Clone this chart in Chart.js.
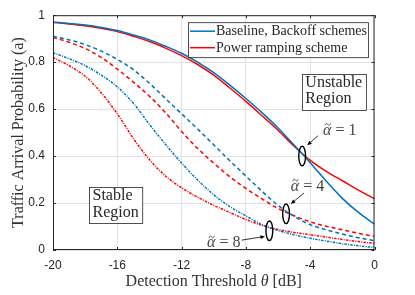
<!DOCTYPE html>
<html>
<head>
<meta charset="utf-8">
<script src="https://cdn.jsdelivr.net/npm/chart.js@4"></script>
<style>
  body { margin: 0; background: #fff; }
  canvas { display: block; }
</style>
</head>
<body>
<canvas id="arrivalChart" width="415" height="295"></canvas>
<script>
// detection threshold (dB) and traffic arrival probability
var thetaDb = [-20, -19, -18, -17, -16, -15, -14, -13, -12, -11, -10, -9, -8, -7, -6, -5, -4, -3, -2, -1, 0];
var baselineA1 = [0.970, 0.965, 0.958, 0.948, 0.935, 0.916, 0.895, 0.868, 0.838, 0.800, 0.755, 0.702, 0.645, 0.585, 0.520, 0.447, 0.372, 0.293, 0.220, 0.160, 0.110];
var rampingA1 = [0.970, 0.963, 0.955, 0.944, 0.930, 0.910, 0.888, 0.860, 0.828, 0.790, 0.745, 0.690, 0.633, 0.572, 0.510, 0.442, 0.382, 0.335, 0.295, 0.255, 0.218];
var baselineA4 = [0.910, 0.895, 0.875, 0.847, 0.812, 0.768, 0.710, 0.645, 0.580, 0.515, 0.448, 0.380, 0.315, 0.250, 0.190, 0.143, 0.108, 0.086, 0.068, 0.052, 0.040];
var rampingA4 = [0.905, 0.885, 0.858, 0.820, 0.770, 0.715, 0.655, 0.585, 0.505, 0.432, 0.370, 0.312, 0.262, 0.218, 0.177, 0.146, 0.120, 0.101, 0.086, 0.071, 0.058];
var baselineA8 = [0.840, 0.815, 0.785, 0.745, 0.695, 0.625, 0.535, 0.450, 0.370, 0.298, 0.235, 0.185, 0.145, 0.108, 0.083, 0.065, 0.050, 0.038, 0.027, 0.018, 0.011];
var rampingA8 = [0.820, 0.785, 0.740, 0.670, 0.580, 0.475, 0.385, 0.315, 0.265, 0.225, 0.190, 0.160, 0.130, 0.105, 0.087, 0.075, 0.065, 0.055, 0.045, 0.036, 0.028];

var xTicks = [-20, -16, -12, -8, -4, 0];
var yTicks = [0, 0.2, 0.4, 0.6, 0.8, 1];
var legendLabels = ['Baseline, Backoff schemes', 'Power ramping scheme'];

var BLUE = '#0072BD';
var RED = '#FF0000';
var AXIS = '#262626';
var SERIF = '"Liberation Serif", "Times New Roman", serif';
var SANS = '"Liberation Sans", Arial, sans-serif';

function toPoints(values) {
    var points = [];
    for (var i = 0; i < thetaDb.length; i++) {
        points.push({ x: thetaDb[i], y: values[i] });
    }
    return points;
}

function makeDataset(values, color, dash) {
    return {
        data: toPoints(values),
        borderColor: color,
        borderWidth: 1.5,
        borderDash: dash,
        pointRadius: 0,
        fill: false,
        cubicInterpolationMode: 'monotone'
    };
}

function fixedTicks(list) {
    return function (scale) {
        scale.ticks = list.map(function (v) { return { value: v }; });
    };
}

function plainNumber(value) {
    return String(Math.round(value * 10) / 10);
}

// annotations in data coordinates
var alphaNotes = [
    { label: '1', ellipse: [-4.5, 0.40], arrowFrom: [-3.51, 0.487], arrowTo: [-4.19, 0.446], text: [-3.2, 0.49] },
    { label: '4', ellipse: [-5.5, 0.154], arrowFrom: [-4.38, 0.243], arrowTo: [-5.21, 0.196], text: [-5.21, 0.253] },
    { label: '8', ellipse: [-6.54, 0.082], arrowFrom: [-8.26, 0.042], arrowTo: [-6.81, 0.058], text: [-10.42, 0.011] }
];
var regionNotes = [
    { lines: ['Unstable', 'Region'], at: [-4.52, 0.75] },
    { lines: ['Stable', 'Region'], at: [-17.76, 0.268] }
];

function drawArrow(ctx, x0, y0, x1, y1) {
    var ang = Math.atan2(y1 - y0, x1 - x0);
    var head = 5;
    ctx.beginPath();
    ctx.moveTo(x0, y0);
    ctx.lineTo(x1 - Math.cos(ang) * head * 0.8, y1 - Math.sin(ang) * head * 0.8);
    ctx.stroke();
    ctx.beginPath();
    ctx.moveTo(x1, y1);
    ctx.lineTo(x1 - head * Math.cos(ang - 0.4), y1 - head * Math.sin(ang - 0.4));
    ctx.lineTo(x1 - head * Math.cos(ang + 0.4), y1 - head * Math.sin(ang + 0.4));
    ctx.closePath();
    ctx.fill();
}

function drawTilde(ctx, cx, cy, w) {
    ctx.beginPath();
    ctx.moveTo(cx - w / 2, cy + 1);
    ctx.bezierCurveTo(cx - w / 4, cy - 2, cx - w / 8, cy - 1, cx, cy);
    ctx.bezierCurveTo(cx + w / 8, cy + 1, cx + w / 4, cy + 2, cx + w / 2, cy - 1);
    ctx.stroke();
}

var decorations = {
    id: 'decorations',
    afterDraw: function (chart) {
        var ctx = chart.ctx;
        var area = chart.chartArea;
        var xs = chart.scales.x;
        var ys = chart.scales.y;
        var px = function (p) { return [xs.getPixelForValue(p[0]), ys.getPixelForValue(p[1])]; };

        ctx.save();

        // axes box with inward ticks
        ctx.strokeStyle = AXIS;
        ctx.lineWidth = 1;
        ctx.strokeRect(area.left + 0.5, area.top + 0.5, area.right - area.left - 1, area.bottom - area.top - 1);
        ctx.beginPath();
        for (var v of xTicks) {
            var tx = Math.round(xs.getPixelForValue(v)) + 0.5;
            ctx.moveTo(tx, area.bottom); ctx.lineTo(tx, area.bottom - 3);
            ctx.moveTo(tx, area.top); ctx.lineTo(tx, area.top + 3);
        }
        for (var w of yTicks) {
            var ty = Math.round(ys.getPixelForValue(w)) + 0.5;
            ctx.moveTo(area.left, ty); ctx.lineTo(area.left + 3, ty);
            ctx.moveTo(area.right, ty); ctx.lineTo(area.right - 3, ty);
        }
        ctx.stroke();

        // axis titles
        ctx.fillStyle = '#333';
        ctx.font = '16px ' + SERIF;
        ctx.textBaseline = 'alphabetic';
        var part1 = 'Detection Threshold ';
        var part2 = '\u03B8';
        var part3 = ' [dB]';
        var w1 = ctx.measureText(part1).width;
        var w3 = ctx.measureText(part3).width;
        ctx.font = 'italic 16px ' + SERIF;
        var w2 = ctx.measureText(part2).width;
        var startX = (area.left + area.right) / 2 - (w1 + w2 + w3) / 2;
        ctx.font = '16px ' + SERIF;
        ctx.textAlign = 'left';
        ctx.fillText(part1, startX, 286);
        ctx.font = 'italic 16px ' + SERIF;
        ctx.fillText(part2, startX + w1, 286);
        ctx.font = '16px ' + SERIF;
        ctx.fillText(part3, startX + w1 + w2, 286);

        ctx.save();
        ctx.translate(23, (area.top + area.bottom) / 2);
        ctx.rotate(-Math.PI / 2);
        ctx.textAlign = 'center';
        ctx.fillText('Traffic Arrival Probability (a)', 0, 0);
        ctx.restore();

        // legend
        ctx.font = '14px ' + SERIF;
        var legW = 180, legH = 35;
        var legX = area.right - 6.5 - legW, legY = area.top + 7;
        ctx.fillStyle = '#fff';
        ctx.fillRect(legX, legY, legW, legH);
        ctx.strokeStyle = AXIS;
        ctx.lineWidth = 0.8;
        ctx.strokeRect(legX + 0.5, legY + 0.5, legW, legH);
        var legColors = [BLUE, RED];
        for (var i = 0; i < legendLabels.length; i++) {
            var ly = legY + 9 + i * 16.5;
            ctx.strokeStyle = legColors[i];
            ctx.lineWidth = 1.5;
            ctx.beginPath();
            ctx.moveTo(legX + 2, ly); ctx.lineTo(legX + 27, ly);
            ctx.stroke();
            ctx.fillStyle = AXIS;
            ctx.textAlign = 'left';
            ctx.fillText(legendLabels[i], legX + 28, ly + 4);
        }

        // region boxes
        ctx.font = '16px ' + SERIF;
        for (var r of regionNotes) {
            var p = px(r.at);
            var tw = Math.max.apply(null, r.lines.map(function (t) { return ctx.measureText(t).width; }));
            ctx.fillStyle = '#fff';
            ctx.fillRect(p[0], p[1], tw + 7, 36);
            ctx.strokeStyle = AXIS;
            ctx.lineWidth = 0.8;
            ctx.strokeRect(Math.round(p[0]) + 0.5, Math.round(p[1]) + 0.5, tw + 7, 36);
            ctx.fillStyle = AXIS;
            for (var k = 0; k < r.lines.length; k++) {
                ctx.fillText(r.lines[k], p[0] + 3.5, p[1] + 13 + k * 16.5);
            }
        }

        // alpha markers
        for (var a of alphaNotes) {
            var c = px(a.ellipse);
            ctx.strokeStyle = '#000';
            ctx.lineWidth = 1.4;
            ctx.beginPath();
            ctx.ellipse(c[0], c[1], 3.4, 9.8, 0, 0, Math.PI * 2);
            ctx.stroke();
            var f = px(a.arrowFrom), t = px(a.arrowTo);
            ctx.fillStyle = '#000';
            ctx.lineWidth = 0.8;
            drawArrow(ctx, f[0], f[1], t[0], t[1]);
            var tp = px(a.text);
            ctx.fillStyle = '#444';
            ctx.strokeStyle = '#444';
            ctx.font = 'italic 16px ' + SERIF;
            ctx.fillText('\u03B1', tp[0], tp[1]);
            var aw = ctx.measureText('\u03B1').width;
            ctx.lineWidth = 0.9;
            drawTilde(ctx, tp[0] + aw / 2 + 0.5, tp[1] - 10.5, 5.5);
            ctx.font = '16px ' + SERIF;
            ctx.fillText(' = ' + a.label, tp[0] + aw, tp[1]);
        }

        ctx.restore();
    }
};

function drawChart() {
    var ctx = document.getElementById('arrivalChart').getContext('2d');

    var arrivalChart = new Chart(ctx, {
        type: 'line',
        data: {
            datasets: [
                makeDataset(baselineA1, BLUE, []),
                makeDataset(rampingA1, RED, []),
                makeDataset(baselineA4, BLUE, [4, 3]),
                makeDataset(rampingA4, RED, [4, 3]),
                makeDataset(baselineA8, BLUE, [2.5, 1.2, 1, 1.2]),
                makeDataset(rampingA8, RED, [2.5, 1.2, 1, 1.2])
            ]
        },
        options: {
            responsive: false,
            animation: false,
            devicePixelRatio: 1,
            layout: { padding: { top: 10, right: 40.5, left: 0, bottom: 0 } },
            plugins: { legend: { display: false }, tooltip: { enabled: false } },
            scales: {
                x: {
                    type: 'linear',
                    min: -20,
                    max: 0,
                    afterBuildTicks: fixedTicks(xTicks),
                    afterFit: function (scale) { scale.height = 45; },
                    grid: { color: '#e3e3e3', drawTicks: false },
                    border: { display: false },
                    ticks: { padding: 8, color: AXIS, font: { family: SANS, size: 12 }, callback: plainNumber }
                },
                y: {
                    min: 0,
                    max: 1,
                    afterBuildTicks: fixedTicks(yTicks),
                    afterFit: function (scale) { scale.width = 53; },
                    grid: { color: '#e3e3e3', drawTicks: false },
                    border: { display: false },
                    ticks: { padding: 8, color: AXIS, font: { family: SANS, size: 12 }, callback: plainNumber }
                }
            }
        },
        plugins: [decorations]
    });
}

drawChart();
</script>
</body>
</html>
